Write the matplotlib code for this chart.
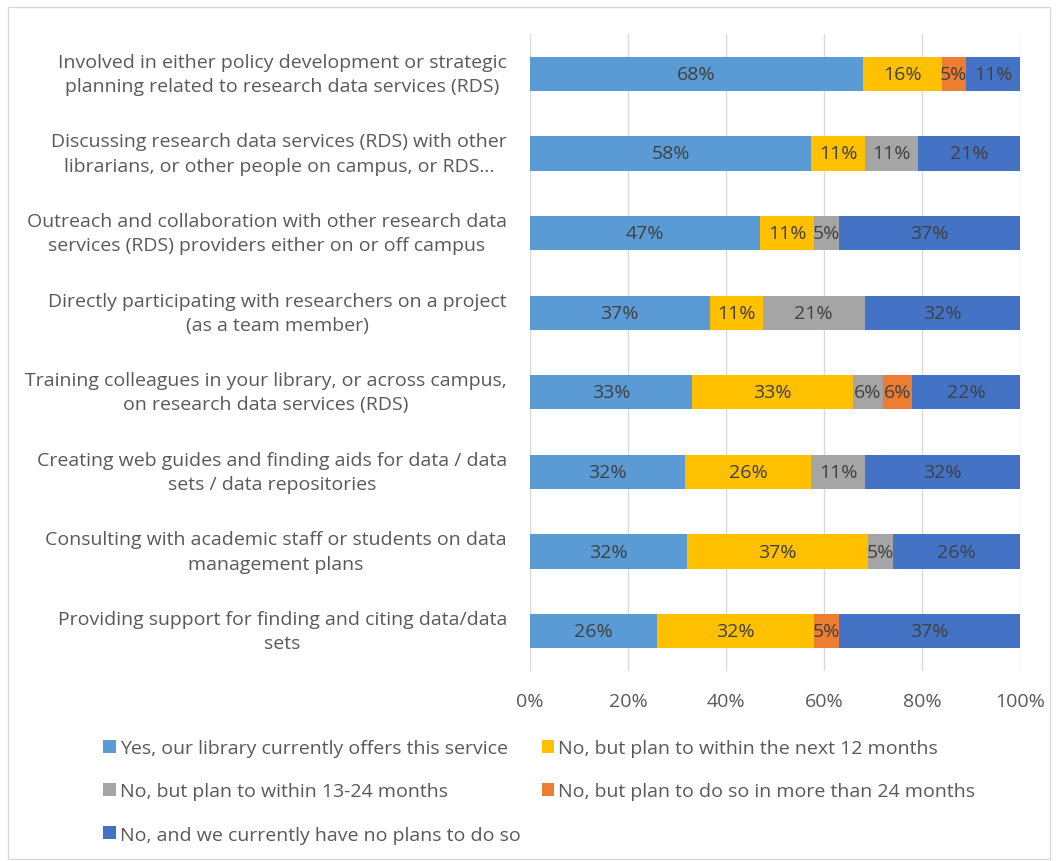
import matplotlib
matplotlib.use("Agg")
import matplotlib.pyplot as plt
from matplotlib.patches import Rectangle, Patch
import numpy as np

plt.rcParams["font.family"] = ["Open Sans", "DejaVu Sans"]

# Catégories, de haut en bas
categories = [
    "Involved in either policy development or strategic\nplanning related to research data services (RDS)",
    "Discussing research data services (RDS) with other\nlibrarians, or other people on campus, or RDS…",
    "Outreach and collaboration with other research data\nservices (RDS) providers either on or off campus",
    "Directly participating with researchers on a project\n(as a team member)",
    "Training colleagues in your library, or across campus,\non research data services (RDS)",
    "Creating web guides and finding aids for data / data\nsets / data repositories",
    "Consulting with academic staff or students on data\nmanagement plans",
    "Providing support for finding and citing data/data\nsets",
]

series_names = [
    "Yes, our library currently offers this service",
    "No, but plan to within the next 12 months",
    "No, but plan to within 13-24 months",
    "No, but plan to do so in more than 24 months",
    "No, and we currently have no plans to do so",
]

yes_now = [68, 58, 47, 37, 33, 32, 32, 26]
within_12 = [16, 11, 11, 11, 33, 26, 37, 32]
within_13_24 = [0, 11, 5, 21, 6, 11, 5, 0]
more_24 = [5, 0, 0, 0, 6, 0, 0, 5]
no_plans = [11, 21, 37, 32, 22, 32, 26, 37]

colors = ["#5B9BD5", "#FFC000", "#A5A5A5", "#ED7D31", "#4472C4"]
TXT = "#595959"
FS = 14

series = np.array([yes_now, within_12, within_13_24, more_24, no_plans], dtype=float)
shares = series / series.sum(axis=0)  # barres empilées à 100 %

fig = plt.figure(figsize=(10.59, 8.62), dpi=100)
ax = fig.add_axes([530 / 1059, 1 - 672 / 862, 490 / 1059, (672 - 35) / 862])

y = np.arange(len(categories))
left = np.zeros(len(categories))
for vals, pct, col in zip(shares, series, colors):
    ax.barh(y, vals, left=left, height=0.43, color=col, zorder=3)
    for yi, l, v, p in zip(y, left, vals, pct):
        if p > 0:
            ax.text(l + v / 2, yi, f"{p:.0f}%", ha="center", va="center",
                    fontsize=FS, color="#404040", zorder=4)
    left += vals

ax.set_xlim(0, 1)
ax.set_ylim(len(categories) - 0.5, -0.5)
ax.set_xticks(np.linspace(0, 1, 6))
ax.set_xticklabels([f"{int(t)}%" for t in np.linspace(0, 100, 6)],
                   fontsize=FS, color=TXT)
ax.tick_params(axis="x", length=0, pad=15)
ax.set_yticks([])
ax.grid(axis="x", color="#D9D9D9", linewidth=1, zorder=0)
for s in ax.spines.values():
    s.set_visible(False)

for yi, lab in zip(y, categories):
    ax.text(-0.047, yi, lab, transform=ax.get_yaxis_transform(), ha="right",
            va="center", multialignment="center", fontsize=FS, color=TXT,
            linespacing=1.45)

# légende : ordre colonne par colonne pour obtenir l'ordre ligne par ligne
order = [0, 2, 4, 1, 3]
handles = [Patch(facecolor=colors[i]) for i in order]
labels = [series_names[i] for i in order]
fig.legend(handles, labels, ncol=2, loc="upper left",
           bbox_to_anchor=(103 / 1059, 1 - 740 / 862), frameon=False,
           fontsize=FS, labelcolor=TXT, handlelength=0.65, handleheight=0.65,
           handletextpad=0.2, columnspacing=1.1, labelspacing=1.3,
           borderaxespad=0, borderpad=0)

fig.patches.append(Rectangle((8 / 1059, 2 / 862), 1042 / 1059, 852 / 862,
                             transform=fig.transFigure, fill=False,
                             edgecolor="#D9D9D9", linewidth=1))

fig.savefig("out.png", dpi=100)
